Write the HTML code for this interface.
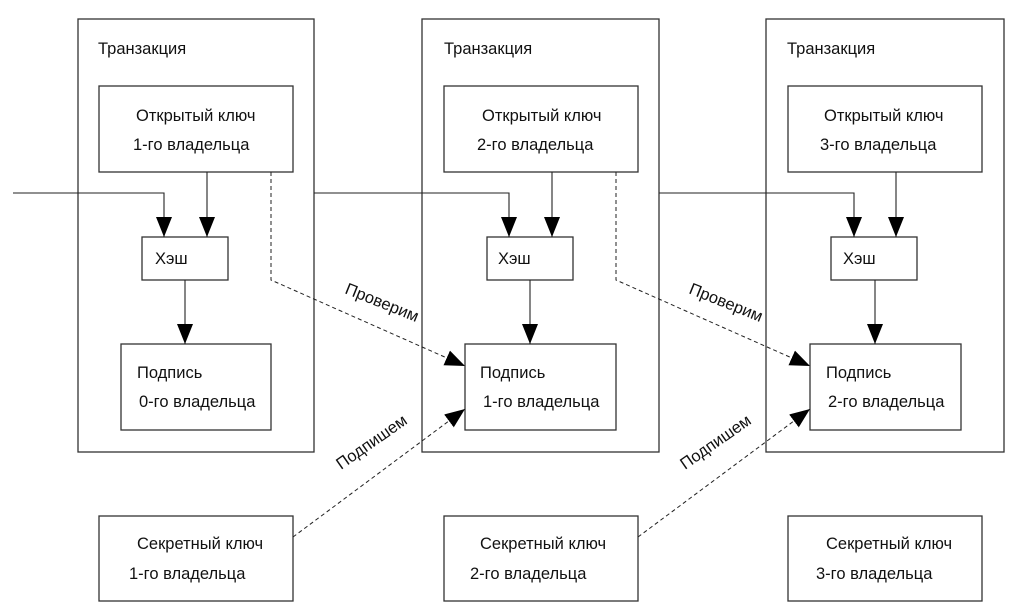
<!DOCTYPE html>
<html><head><meta charset="utf-8"><style>
html,body{margin:0;padding:0;background:#fff;}
svg{display:block;}
text{font-family:"Liberation Sans",Arial,sans-serif;font-size:16.5px;fill:#111;}
</style></head><body>
<svg width="1031" height="611" viewBox="0 0 1031 611" xmlns="http://www.w3.org/2000/svg">
<defs>
<marker id="a" viewBox="0 0 20 16" refX="20" refY="8" markerWidth="20" markerHeight="16" markerUnits="userSpaceOnUse" orient="auto">
<path d="M0,0 L20,8 L0,16 Z" fill="#000"/></marker>
</defs>
<g fill="none" stroke="#333" stroke-width="1.3">
<!-- outer boxes -->
<rect x="78" y="19" width="236" height="433"/>
<rect x="422" y="19" width="237" height="433"/>
<rect x="766" y="19" width="238" height="433"/>
<!-- open keys -->
<rect x="99" y="86" width="194" height="86"/>
<rect x="444" y="86" width="194" height="86"/>
<rect x="788" y="86" width="194" height="86"/>
<!-- hash -->
<rect x="142" y="237" width="86" height="43"/>
<rect x="487" y="237" width="86" height="43"/>
<rect x="831" y="237" width="86" height="43"/>
<!-- sign -->
<rect x="121" y="344" width="150" height="86"/>
<rect x="465" y="344" width="151" height="86"/>
<rect x="810" y="344" width="151" height="86"/>
<!-- secret -->
<rect x="99" y="516" width="194" height="85"/>
<rect x="444" y="516" width="194" height="85"/>
<rect x="788" y="516" width="194" height="85"/>
</g>
<g fill="none" stroke="#222" stroke-width="1.1">
<path d="M13,193 H164 V237" marker-end="url(#a)"/>
<path d="M207,172 V237" marker-end="url(#a)"/>
<path d="M185,280 V344" marker-end="url(#a)"/>
<path d="M314,193 H509 V237" marker-end="url(#a)"/>
<path d="M552,172 V237" marker-end="url(#a)"/>
<path d="M530,280 V344" marker-end="url(#a)"/>
<path d="M659,193 H854 V237" marker-end="url(#a)"/>
<path d="M896,172 V237" marker-end="url(#a)"/>
<path d="M875,280 V344" marker-end="url(#a)"/>
</g>
<g fill="none" stroke="#222" stroke-width="1" stroke-dasharray="4,3">
<path d="M271,172 V280 L465,366" marker-end="url(#a)"/>
<path d="M616,172 V280 L810,366" marker-end="url(#a)"/>
<path d="M293,537 L465,409" marker-end="url(#a)"/>
<path d="M638,537 L810,409" marker-end="url(#a)"/>
</g>
<g>
<text x="98" y="54">Транзакция</text>
<text x="444" y="54">Транзакция</text>
<text x="787" y="54">Транзакция</text>
<text x="136" y="121">Открытый ключ</text>
<text x="133" y="150">1-го владельца</text>
<text x="482" y="121">Открытый ключ</text>
<text x="477" y="150">2-го владельца</text>
<text x="824" y="121">Открытый ключ</text>
<text x="820" y="150">3-го владельца</text>
<text x="155" y="264">Хэш</text>
<text x="498" y="264">Хэш</text>
<text x="843" y="264">Хэш</text>
<text x="137" y="378">Подпись</text>
<text x="139" y="407">0-го владельца</text>
<text x="480" y="378">Подпись</text>
<text x="483" y="407">1-го владельца</text>
<text x="826" y="378">Подпись</text>
<text x="828" y="407">2-го владельца</text>
<text x="137" y="549">Секретный ключ</text>
<text x="129" y="579">1-го владельца</text>
<text x="480" y="549">Секретный ключ</text>
<text x="470" y="579">2-го владельца</text>
<text x="826" y="549">Секретный ключ</text>
<text x="816" y="579">3-го владельца</text>
<text transform="translate(344,293) rotate(22)">Проверим</text>
<text transform="translate(688,293) rotate(22)">Проверим</text>
<text transform="translate(341,470) rotate(-35)">Подпишем</text>
<text transform="translate(685,470) rotate(-35)">Подпишем</text>
</g>
</svg>
</body></html>
